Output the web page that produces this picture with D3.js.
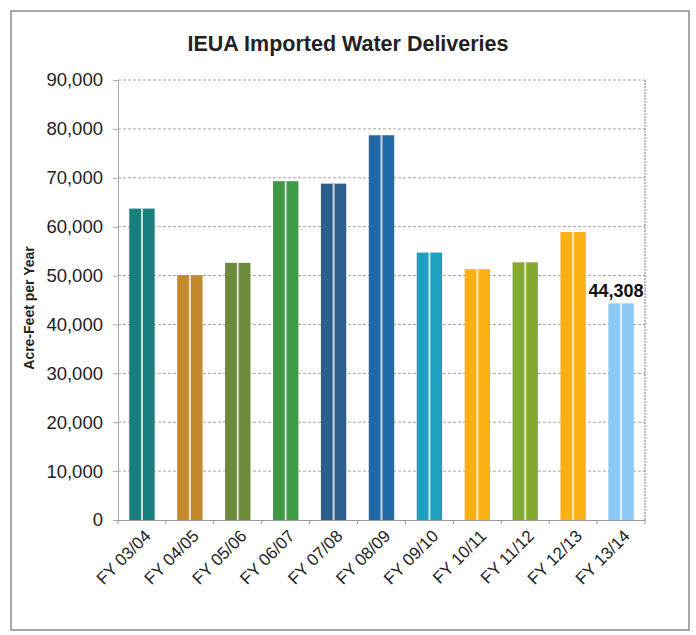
<!DOCTYPE html>
<html><head><meta charset="utf-8">
<script src="https://cdn.jsdelivr.net/npm/d3@7"></script>
<style>html,body{margin:0;padding:0;background:#fff;}svg{display:block;}</style>
</head><body>
<svg id="chart" width="696" height="635"></svg>
<script>
const categories = ["FY 03/04","FY 04/05","FY 05/06","FY 06/07","FY 07/08","FY 08/09","FY 09/10","FY 10/11","FY 11/12","FY 12/13","FY 13/14"];
const values = [63700, 50100, 52600, 69300, 68800, 78700, 54700, 51300, 52700, 58900, 44308];
const barColors = ["#17807f","#c4892c","#6c8a3c","#3f9a48","#2e5f8c","#2169a9","#1ea1c1","#fbb014","#83aa2f","#fbb014","#8cc8f5"];
const yTicks = [0,10000,20000,30000,40000,50000,60000,70000,80000,90000];
const labelled = [{index:10, text:"44,308"}];

const svg = d3.select("#chart");
const m = {left:118, right:51, top:80, bottom:115};
const W = 696, H = 635;
const iw = W - m.left - m.right, ih = H - m.top - m.bottom;

svg.append("rect").attr("x",11).attr("y",11).attr("width",678).attr("height",619)
  .attr("fill","#fff").attr("stroke","#8a8a8a").attr("stroke-width",1.5);

svg.append("text").attr("x",348).attr("y",51).attr("text-anchor","middle")
  .attr("font-family","'Liberation Sans Narrow','Liberation Sans',Arial,sans-serif")
  .attr("font-weight","bold").attr("font-size",21.5).attr("fill","#222")
  .text("IEUA Imported Water Deliveries");

const g = svg.append("g").attr("transform",`translate(${m.left},${m.top})`);
const x = d3.scaleBand().domain(categories).range([0,iw]).paddingInner(0.47).paddingOuter(0.235);
const y = d3.scaleLinear().domain([0,90000]).range([ih,0]);

// gridlines
g.append("g").selectAll("line").data(yTicks.filter(d=>d>0)).join("line")
  .attr("x1",0).attr("x2",iw).attr("y1",d=>y(d)).attr("y2",d=>y(d))
  .attr("stroke","#a5a5a5").attr("stroke-width",1).attr("stroke-dasharray","3,2");
// right border
g.append("line").attr("x1",iw).attr("x2",iw).attr("y1",0).attr("y2",ih)
  .attr("stroke","#777").attr("stroke-width",1).attr("stroke-dasharray","2,1");

// y axis
const ya = g.append("g").call(d3.axisLeft(y).tickValues(yTicks).tickSize(5).tickPadding(10).tickFormat(d3.format(",")));
ya.select(".domain").attr("stroke","#aaa");
ya.selectAll(".tick line").attr("stroke","#aaa");
ya.selectAll("text").attr("font-family","'Liberation Sans',Arial,sans-serif").attr("font-size",18.5).attr("fill","#222");

// bars
const bars = g.append("g").selectAll("g").data(categories).join("g");
bars.append("rect").attr("x",d=>x(d)).attr("width",x.bandwidth())
  .attr("y",(d,i)=>y(values[i])).attr("height",(d,i)=>ih - y(values[i]))
  .attr("fill",(d,i)=>barColors[i]);
bars.append("rect").attr("x",d=>x(d)+x.bandwidth()/2-1).attr("width",2)
  .attr("y",(d,i)=>y(values[i])).attr("height",(d,i)=>ih - y(values[i]))
  .attr("fill","#fff").attr("opacity",0.75);

// x axis
const xa = g.append("g").attr("transform",`translate(0,${ih})`)
  .call(d3.axisBottom(x).tickSize(0).tickFormat(""));
xa.select(".domain").attr("stroke","#999");
const bounds = d3.range(0, categories.length+1).map(i=> i*iw/categories.length);
xa.append("g").selectAll("line").data(bounds).join("line")
  .attr("x1",d=>d).attr("x2",d=>d).attr("y1",0).attr("y2",4).attr("stroke","#999");

g.append("g").selectAll("text").data(categories).join("text")
  .attr("transform",d=>`translate(${x(d)+x.bandwidth()/2+10},${ih+17}) rotate(-45)`)
  .attr("text-anchor","end").attr("font-family","'Liberation Sans',Arial,sans-serif")
  .attr("font-size",17).attr("fill","#222").text(d=>d);

// value label
g.append("g").selectAll("text").data(labelled).join("text")
  .attr("x",d=>x(categories[d.index])+x.bandwidth()/2-5)
  .attr("y",d=>y(values[d.index])-6)
  .attr("text-anchor","middle").attr("font-family","'Liberation Sans',Arial,sans-serif")
  .attr("font-weight","bold").attr("font-size",18).attr("fill","#111").text(d=>d.text);

// y axis title
svg.append("text").attr("transform","translate(34,308) rotate(-90)")
  .attr("text-anchor","middle").attr("font-family","'Liberation Sans',Arial,sans-serif")
  .attr("font-weight","bold").attr("font-size",14).attr("fill","#222").text("Acre-Feet per Year");
</script>
</body></html>
